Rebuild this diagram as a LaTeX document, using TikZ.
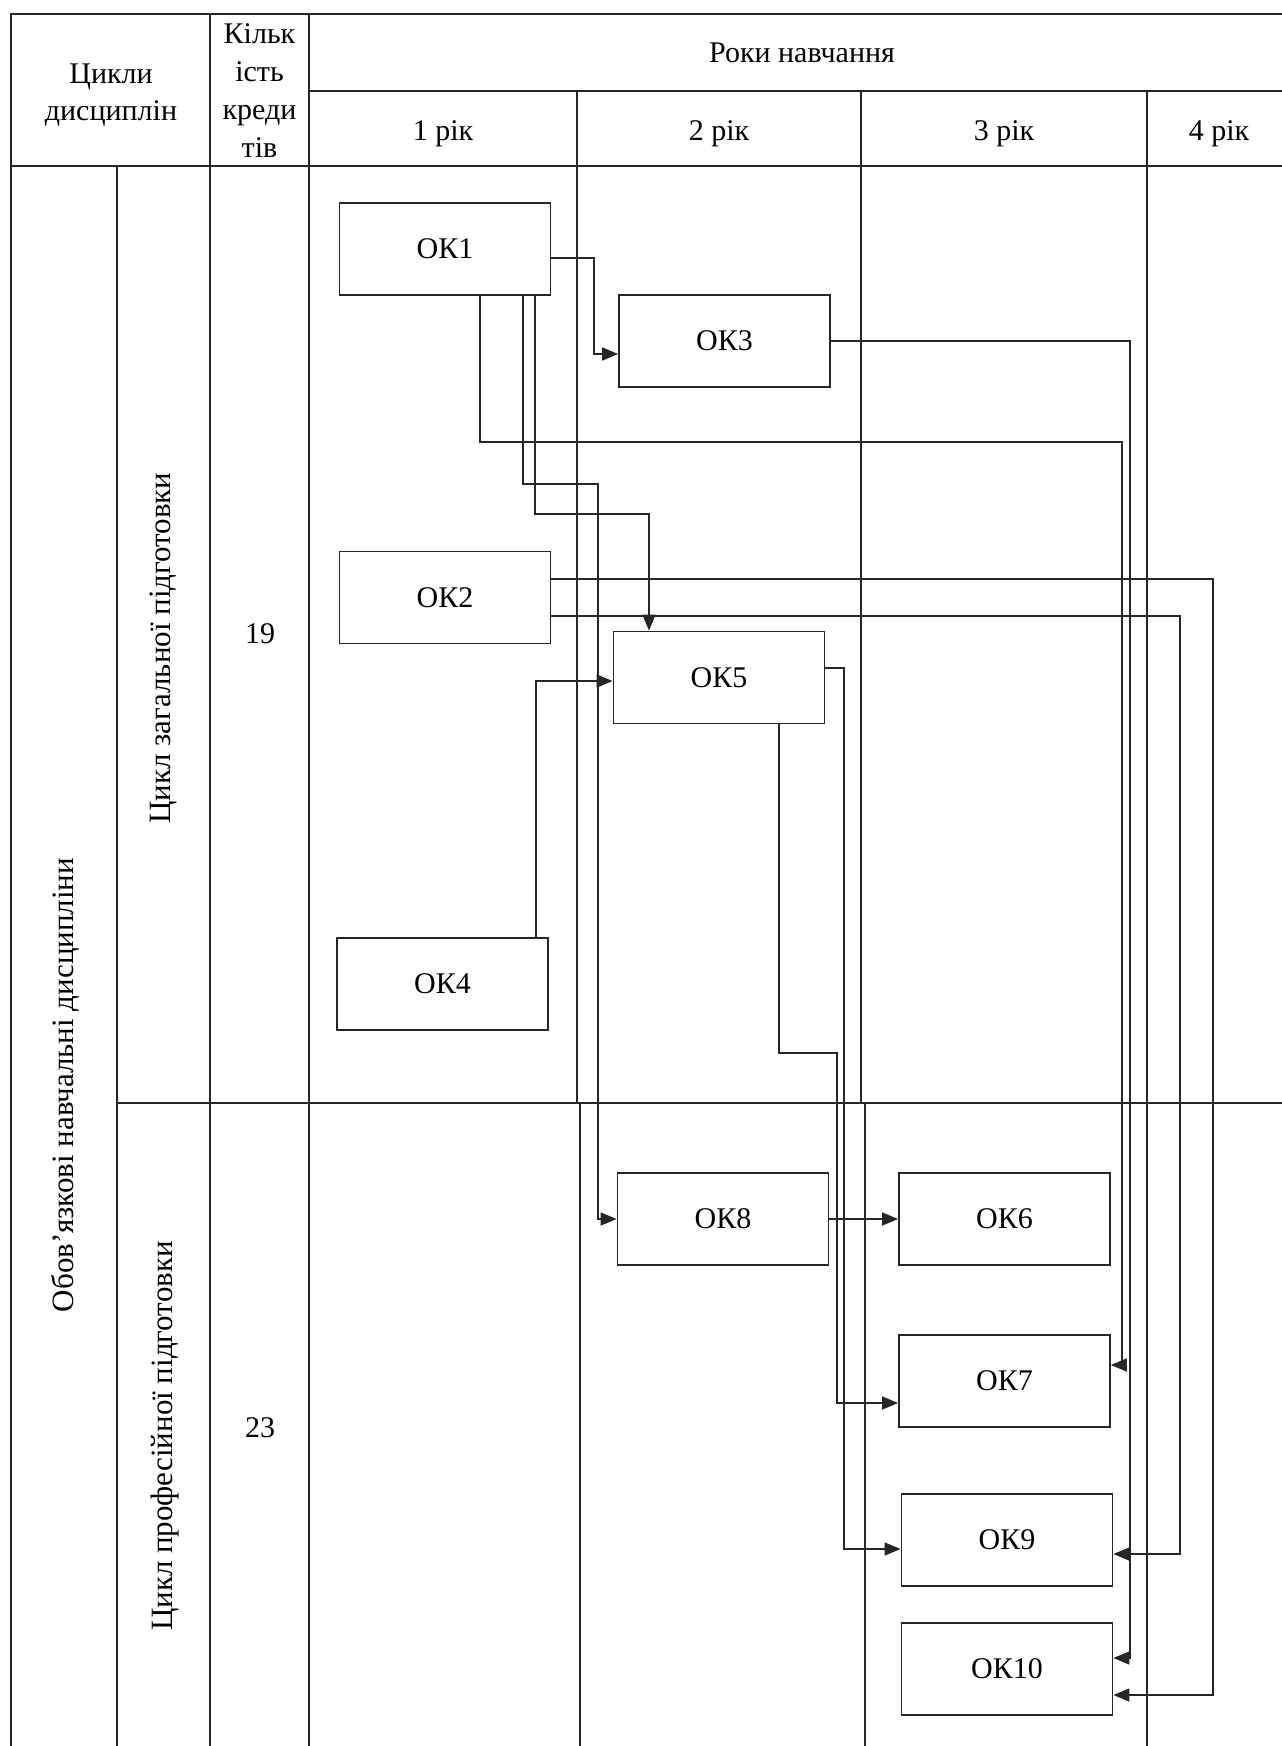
\documentclass[tikz,border=0pt]{standalone}
\usepackage{fontspec}
\setmainfont{Liberation Serif}
\usetikzlibrary{arrows.meta,calc}
\begin{document}
\begin{tikzpicture}[x=1pt,y=-1pt,
  tbl/.style={line width=2pt, draw=black!85, line cap=rect},
  okbox/.style={draw=black!85, line width=1.8pt, minimum width=211pt, minimum height=92pt, inner sep=0pt, font=\fontsize{30}{36}\selectfont},
  conn/.style={draw=black!85, line width=1.7pt, -{Triangle[length=16pt,width=13pt]}},
  lbl/.style={font=\fontsize{30}{36}\selectfont, inner sep=0pt},
  rlbl/.style={font=\fontsize{31}{36}\selectfont, inner sep=0pt, rotate=90, anchor=base},
]
\useasboundingbox (0,0) rectangle (1282,1746);
\fill[white] (0,0) rectangle (1282,1746);

% table
\draw[tbl] (11,14) -- (1282,14);
\draw[tbl] (309,91) -- (1282,91);
\draw[tbl] (11,166) -- (1282,166);
\draw[tbl] (117,1103) -- (1282,1103);
\draw[tbl] (11,14) -- (11,1746);
\draw[tbl] (117,166) -- (117,1746);
\draw[tbl] (210,14) -- (210,1746);
\draw[tbl] (309,14) -- (309,1746);
\draw[tbl] (577,91) -- (577,1103);
\draw[tbl] (580,1103) -- (580,1746);
\draw[tbl] (861,91) -- (861,1103);
\draw[tbl] (865,1103) -- (865,1746);
\draw[tbl] (1147,91) -- (1147,1746);

% header texts
\node[lbl, anchor=base] (hc1) at (111,83) {Цикли};
\node[lbl, anchor=base] (hc2) at (111,120) {дисциплін};
\node[lbl, anchor=base] (hk1) at (259.5,43) {Кільк};
\node[lbl, anchor=base] (hk2) at (259.5,81) {ість};
\node[lbl, anchor=base] (hk3) at (259.5,119) {креди};
\node[lbl, anchor=base] (hk4) at (259.5,157) {тів};
\node[lbl, anchor=base] (hr) at (802,62) {Роки навчання};
\node[lbl, anchor=base] (yr1) at (443,140) {1 рік};
\node[lbl, anchor=base] (yr2) at (719,140) {2 рік};
\node[lbl, anchor=base] (yr3) at (1004,140) {3 рік};
\node[lbl, anchor=base] (yr4) at (1219,140) {4 рік};

% side texts
\node[rlbl] (rot1) at (73,1085) {Обов’язкові навчальні дисципліни};
\node[rlbl] (rot2) at (170,648) {Цикл загальної підготовки};
\node[rlbl] (rot3) at (172,1436) {Цикл професійної підготовки};
\node[lbl] (n19) at (260,634) {19};
\node[lbl] (n23) at (260,1428) {23};

% boxes
\node[okbox] (ok1) at (445,249) {ОК1};
\node[okbox] (ok3) at (724.5,341) {ОК3};
\node[okbox] (ok2) at (445,597.5) {ОК2};
\node[okbox] (ok5) at (719,677.5) {ОК5};
\node[okbox] (ok4) at (442.5,984) {ОК4};
\node[okbox] (ok8) at (723,1219) {ОК8};
\node[okbox] (ok6) at (1004.5,1219) {ОК6};
\node[okbox] (ok7) at (1004.5,1381) {ОК7};
\node[okbox] (ok9) at (1007,1540) {ОК9};
\node[okbox] (ok10) at (1007,1669) {ОК10};

% connectors
\draw[conn] ($(ok1.east)+(0,9)$) -| (594,354) -- ($(ok3.west)+(0,13)$);
\draw[conn] ($(ok1.south)+(35,0)$) |- (1122,442) |- ($(ok7.east)+(0,-16)$);
\draw[conn] (ok3.east) -| (1130,1658) -- ($(ok10.east)+(0,-11)$);
\draw[conn] ($(ok1.south)+(78,0)$) |- (598,484) |- (ok8.west);
\draw[conn] ($(ok1.south)+(90,0)$) |- (649,514) -- ($(ok5.north)+(-70,0)$);
\draw[conn] ($(ok4.north)+(93.5,0)$) |- ($(ok5.west)+(0,3.5)$);
\draw[conn] ($(ok2.east)+(0,-18.5)$) -| (1213,1695) -- ($(ok10.east)+(0,26)$);
\draw[conn] ($(ok2.east)+(0,18.5)$) -| (1180,1554) -- ($(ok9.east)+(0,14)$);
\draw[conn] ($(ok5.east)+(0,-9.5)$) -| (844,1549) -- ($(ok9.west)+(0,9)$);
\draw[conn] ($(ok5.south)+(60,0)$) |- (837,1053) |- ($(ok7.west)+(0,22)$);
\draw[conn] (ok8.east) -- (ok6.west);
\end{tikzpicture}
\end{document}
